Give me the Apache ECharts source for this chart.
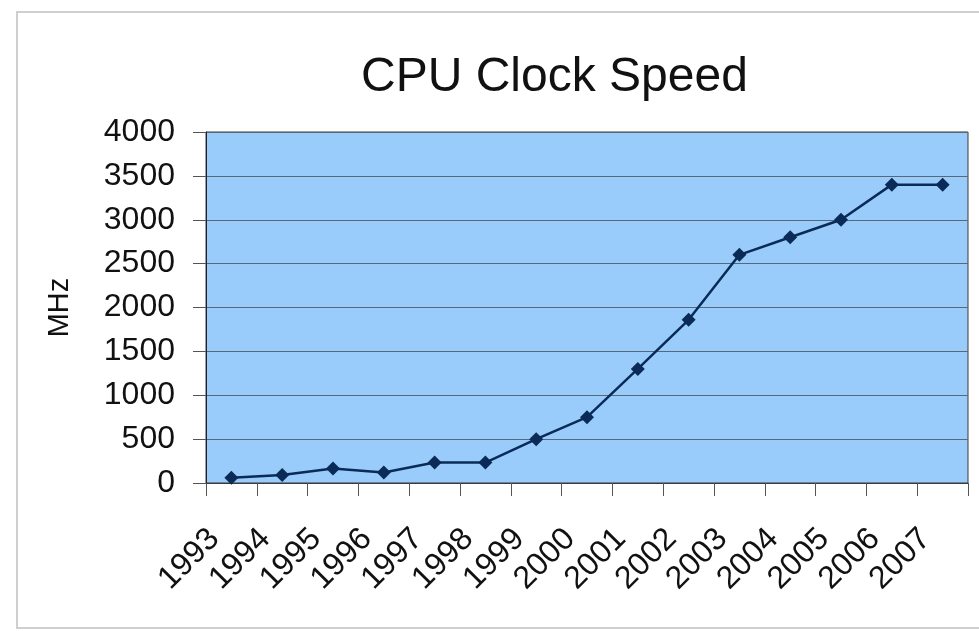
<!DOCTYPE html>
<html>
<head>
    <meta charset="utf-8">
    <title>CPU Clock Speed</title>
    <script src="https://cdn.jsdelivr.net/npm/echarts@6/dist/echarts.min.js"></script>
    <style>
        html, body { margin: 0; padding: 0; background: #fff; }
        #main { width: 979px; height: 631px; }
    </style>
</head>
<body>
    <div id="main"></div>
    <script type="text/javascript">
        var years = ['1993', '1994', '1995', '1996', '1997', '1998', '1999', '2000',
                     '2001', '2002', '2003', '2004', '2005', '2006', '2007'];
        var mhz = [60, 90, 166, 120, 233, 233, 500, 750, 1300, 1860, 2600, 2800, 3000, 3400, 3400];
        var yTicks = [0, 500, 1000, 1500, 2000, 2500, 3000, 3500, 4000];

        var font = '"Liberation Sans", Arial, sans-serif';
        var myChart = echarts.init(document.getElementById('main'));

        myChart.setOption({
            animation: false,
            title: {
                text: 'CPU Clock Speed',
                left: 356,
                top: 49,
                textStyle: { fontFamily: font, fontSize: 48, fontWeight: 'normal', color: '#111' }
            },
            graphic: [{
                type: 'rect',
                shape: { x: 17, y: 12, width: 1000, height: 616 },
                style: { fill: 'none', stroke: '#cfcfcf', lineWidth: 2 },
                z: -1
            }],
            grid: {
                left: 206,
                right: 11,
                top: 132,
                bottom: 148,
                show: true,
                backgroundColor: '#99ccfa',
                borderColor: '#3a3a3a',
                borderWidth: 1
            },
            xAxis: {
                type: 'category',
                data: years,
                boundaryGap: true,
                axisLine: { lineStyle: { color: '#3a3a3a', width: 1 } },
                axisTick: { show: true, length: 13, lineStyle: { color: '#555' } },
                axisLabel: {
                    rotate: 45,
                    margin: 34,
                    padding: [0, 24, 0, 0],
                    interval: 0,
                    fontFamily: font,
                    fontSize: 32,
                    color: '#111'
                }
            },
            yAxis: {
                type: 'value',
                name: 'MHz',
                nameLocation: 'middle',
                nameGap: 132,
                nameTextStyle: { fontFamily: font, fontSize: 29, color: '#111' },
                min: yTicks[0],
                max: yTicks[yTicks.length - 1],
                interval: 500,
                axisLine: { show: true, lineStyle: { color: '#222', width: 1 } },
                axisTick: { show: true, length: 13, lineStyle: { color: '#555' } },
                axisLabel: {
                    margin: 31,
                    fontFamily: font,
                    fontSize: 32,
                    color: '#111',
                    formatter: function (v) { return String(v); }
                },
                splitLine: { show: true, lineStyle: { color: '#56697c', width: 1 } }
            },
            series: [{
                name: 'MHz',
                type: 'line',
                data: mhz,
                symbol: 'diamond',
                symbolSize: 14,
                lineStyle: { color: '#0a2b57', width: 2.5 },
                itemStyle: { color: '#0a2b57' }
            }]
        });
    </script>
</body>
</html>
